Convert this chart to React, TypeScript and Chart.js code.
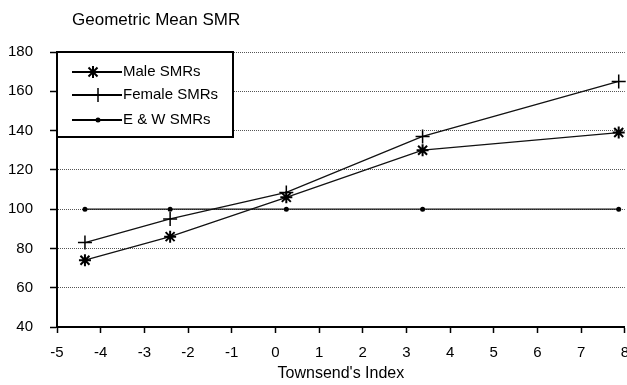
import React, { useEffect, useRef } from "react";
import { Chart, registerables } from "chart.js";

Chart.register(...registerables);

const titleText = "Geometric Mean SMR";
const xAxisTitle = "Townsend's Index";
const seriesNames = ["Male SMRs", "Female SMRs", "E & W SMRs"];
const townsendX = [-4.36, -2.41, 0.25, 3.37, 7.86];
const maleSMR = [74, 86, 106, 130, 139];
const femaleSMR = [83, 95, 108.5, 137, 165];
const ewSMR = [100, 100, 100, 100, 100];
const xMin = -5;
const xMax = 8;
const yMin = 40;
const yMax = 180;

const FONT = "Arial, 'Liberation Sans', Helvetica, sans-serif";

function drawMarker(ctx: CanvasRenderingContext2D, kind: string, x: number, y: number) {
  ctx.save();
  ctx.strokeStyle = "#000";
  ctx.fillStyle = "#000";
  if (kind === "star") {
    ctx.lineWidth = 2;
    const r = 6;
    ctx.beginPath();
    ctx.moveTo(x - r, y); ctx.lineTo(x + r, y);
    ctx.moveTo(x, y - r); ctx.lineTo(x, y + r);
    const d = r * 0.75;
    ctx.moveTo(x - d, y - d); ctx.lineTo(x + d, y + d);
    ctx.moveTo(x - d, y + d); ctx.lineTo(x + d, y - d);
    ctx.stroke();
  } else if (kind === "cross") {
    ctx.lineWidth = 1.5;
    const r = 7;
    ctx.beginPath();
    ctx.moveTo(x - r, y); ctx.lineTo(x + r, y);
    ctx.moveTo(x, y - r); ctx.lineTo(x, y + r);
    ctx.stroke();
  } else {
    ctx.beginPath();
    ctx.arc(x, y, 2.5, 0, Math.PI * 2);
    ctx.fill();
  }
  ctx.restore();
}

const markerKinds = ["star", "cross", "circle"];

const overlayPlugin = {
  id: "overlay",
  afterDraw(chart: any) {
    const ctx: CanvasRenderingContext2D = chart.ctx;
    const area = chart.chartArea;
    ctx.save();
    // title
    ctx.fillStyle = "#000";
    ctx.font = `17px ${FONT}`;
    ctx.textBaseline = "alphabetic";
    ctx.textAlign = "left";
    ctx.fillText(titleText, 72, 25);
    // legend box
    const bx = area.left;
    const by = area.top;
    const bw = 176;
    const bh = 85;
    ctx.fillStyle = "#fff";
    ctx.fillRect(bx, by, bw, bh);
    ctx.strokeStyle = "#000";
    ctx.lineWidth = 2;
    ctx.strokeRect(bx, by, bw, bh);
    const rowsY = [by + 20, by + 43, by + 68];
    seriesNames.forEach((name, i) => {
      const ry = rowsY[i];
      ctx.strokeStyle = "#000";
      ctx.lineWidth = 2;
      ctx.beginPath();
      ctx.moveTo(bx + 15, ry);
      ctx.lineTo(bx + 65, ry);
      ctx.stroke();
      drawMarker(ctx, markerKinds[i], bx + (i === 0 ? 36 : 41), ry);
      ctx.fillStyle = "#000";
      ctx.font = `15px ${FONT}`;
      ctx.textBaseline = "middle";
      ctx.textAlign = "left";
      ctx.fillText(name, bx + 66, ry);
    });
    ctx.restore();
  },
};

const markerPlugin = {
  id: "markers",
  afterDatasetsDraw(chart: any) {
    const ctx: CanvasRenderingContext2D = chart.ctx;
    chart.data.datasets.forEach((ds: any, i: number) => {
      const meta = chart.getDatasetMeta(i);
      meta.data.forEach((pt: any) => {
        drawMarker(ctx, markerKinds[i], pt.x, pt.y);
      });
    });
  },
};

export default function App() {
  const ref = useRef<HTMLCanvasElement>(null);
  useEffect(() => {
    if (!ref.current) return;
    const mk = (vals: number[]) => townsendX.map((x, i) => ({ x, y: vals[i] }));
    const lineDs = (label: string, vals: number[]) => ({
      label,
      data: mk(vals),
      showLine: true,
      borderColor: "#111",
      borderWidth: 1.3,
      pointRadius: 0,
      pointHoverRadius: 0,
      fill: false,
      tension: 0,
    });
    const chart = new Chart(ref.current, {
      type: "scatter",
      data: {
        datasets: [
          lineDs(seriesNames[0], maleSMR),
          lineDs(seriesNames[1], femaleSMR),
          lineDs(seriesNames[2], ewSMR),
        ],
      },
      options: {
        animation: false,
        responsive: false,
        events: [],
        layout: { padding: { top: 52, right: 15, left: 0, bottom: 0 } },
        plugins: {
          legend: { display: false },
          title: { display: false },
          tooltip: { enabled: false },
        },
        scales: {
          x: {
            type: "linear",
            min: xMin,
            max: xMax,
            afterFit: (s: any) => { s.height = 58; },
            ticks: {
              stepSize: 1,
              color: "#000",
              padding: 11,
              maxRotation: 0,
              font: { family: FONT, size: 15 },
            },
            grid: {
              drawOnChartArea: false,
              tickLength: 6,
              tickColor: "#000",
              tickWidth: 1.5,
            },
            border: { display: true, color: "#000", width: 2 },
            title: {
              display: true,
              text: xAxisTitle,
              color: "#000",
              font: { family: FONT, size: 16 },
              padding: { top: 0, bottom: 2 },
            },
          },
          y: {
            type: "linear",
            min: yMin,
            max: yMax,
            afterFit: (s: any) => { s.width = 57; },
            ticks: {
              stepSize: 20,
              color: "#000",
              padding: 17,
              font: { family: FONT, size: 15 },
            },
            grid: {
              color: "#555",
              lineWidth: 1,
              tickLength: 7,
              tickColor: "#000",
              tickWidth: 1.5,
              tickBorderDash: [],
            },
            border: { display: true, color: "#000", width: 2, dash: [1, 1] },
          },
        },
      },
      plugins: [markerPlugin, overlayPlugin],
    });
    return () => chart.destroy();
  }, []);
  return (
    <div
      style={{
        position: "fixed",
        left: 0,
        top: 0,
        width: 627,
        height: 385,
        overflow: "hidden",
        background: "#fff",
      }}
    >
      <canvas ref={ref} width={640} height={385} style={{ display: "block" }} />
    </div>
  );
}
